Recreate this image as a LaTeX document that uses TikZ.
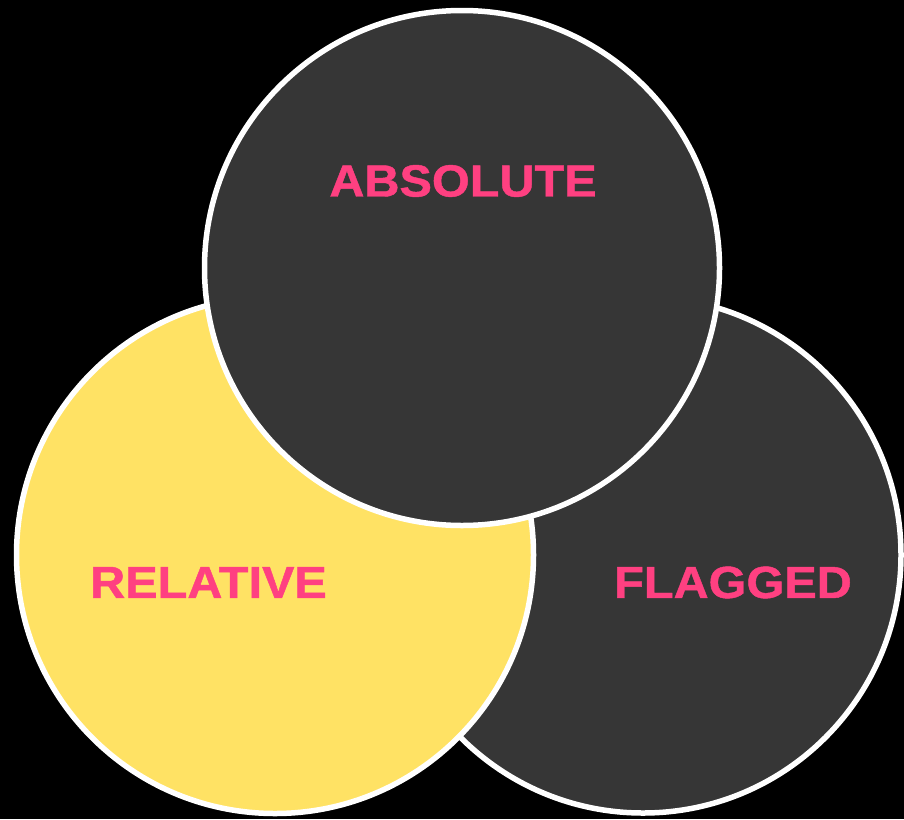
\documentclass[tikz,border=0pt]{standalone}
\usepackage{fontspec}
\setmainfont{Liberation Sans}[FakeStretch=1.08,BoldFeatures={FakeBold=1}]
\definecolor{dark}{HTML}{363636}
\definecolor{yel}{HTML}{FFE264}
\definecolor{pink}{HTML}{FF4081}
\begin{document}
\begin{tikzpicture}[x=1pt,y=-1pt,
  venn/.style={draw=white,line width=5.5pt},
  lbl/.style={text=pink,font=\bfseries\fontsize{45}{45}\selectfont,inner sep=0pt,anchor=center}]
\fill[black] (0,0) rectangle (904,819);
\useasboundingbox (0,0) rectangle (904,819);
\path[venn,fill=dark] (643,555) circle[radius=258];
\path[venn,fill=yel] (275,555) circle[radius=258.5];
\path[venn,fill=dark] (462,268) circle[radius=257.5];
\node[lbl] (abs) at (463,181) {ABSOLUTE};
\node[lbl] (rel) at (208.5,582.5) {RELATIVE};
\node[lbl] (flg) at (733,582.5) {FLAGGED};
\end{tikzpicture}
\end{document}
